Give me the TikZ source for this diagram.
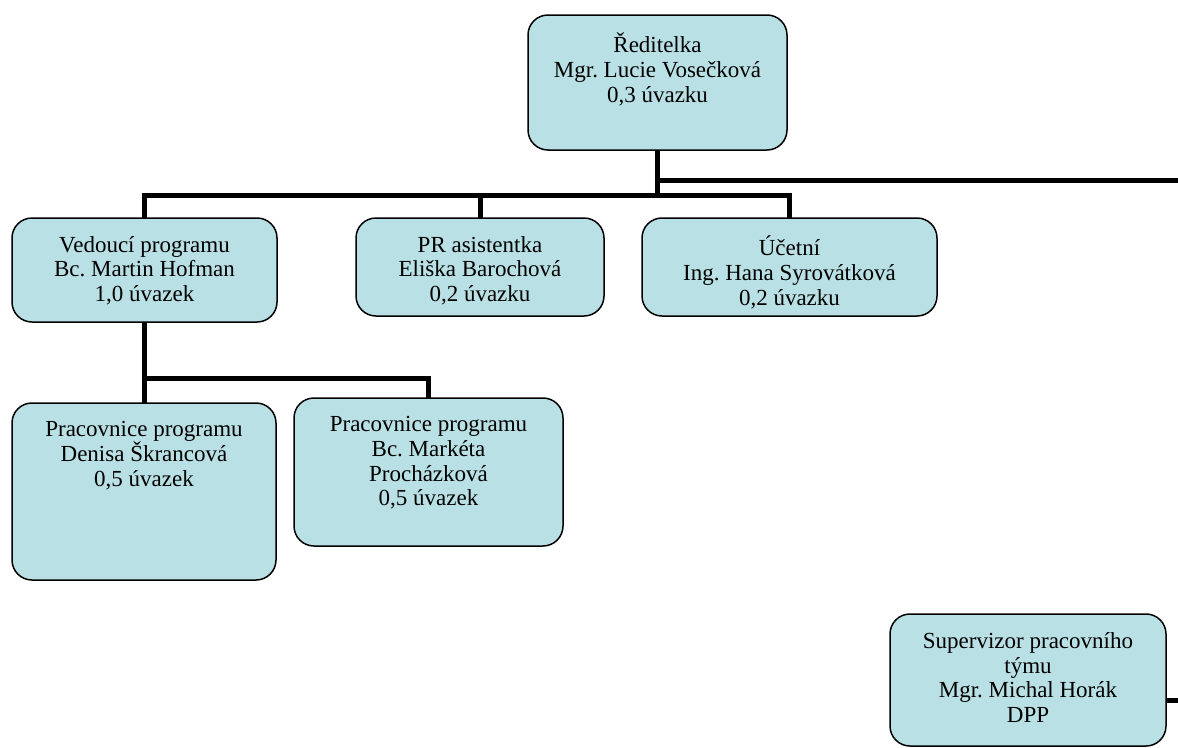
\documentclass[tikz,border=0pt]{standalone}
\usepackage{fontspec}
\setmainfont{Liberation Serif}
\definecolor{boxfill}{RGB}{185,224,228}
\frenchspacing
\begin{document}
\begin{tikzpicture}[x=1pt, y=-1pt,
	box/.style={draw, line width=1.5pt, fill=boxfill, rounded corners=20pt, inner sep=0pt, outer sep=0pt},
	lbl/.style={anchor=north, yshift=-18pt, align=center, inner sep=0pt, font=\fontsize{23}{24.8}\selectfont, execute at begin node=\strut},
	conn/.style={line width=5pt}]
\path[use as bounding box, clip] (0,0) rectangle (1178,747);
\node[box, minimum width=259pt, minimum height=135pt, label={[lbl]north:{Ředitelka\\Mgr. Lucie Vosečková\\0,3 úvazku}}] (dir) at (657.5,82.5) {};
\node[box, minimum width=265pt, minimum height=104pt, label={[lbl]north:{Vedoucí programu\\Bc. Martin Hofman\\1,0 úvazek}}] (ved) at (144.5,270) {};
\node[box, minimum width=248pt, minimum height=98pt, label={[lbl]north:{PR asistentka\\Eliška Barochová\\0,2 úvazku}}] (pr) at (480,267) {};
\node[box, minimum width=295pt, minimum height=98pt, label={[lbl]north:{Účetní\\Ing. Hana Syrovátková\\0,2 úvazku}}] (uc) at (789.5,267) {};
\node[box, minimum width=264pt, minimum height=177pt, label={[lbl]north:{Pracovnice programu\\Denisa Škrancová\\0,5 úvazek}}] (prac1) at (144,491.5) {};
\node[box, minimum width=269pt, minimum height=148pt, label={[lbl]north:{Pracovnice programu\\Bc. Markéta\\Procházková\\0,5 úvazek}}] (prac2) at (428.5,472) {};
\node[box, minimum width=276pt, minimum height=132pt, label={[lbl]north:{Supervizor pracovního\\týmu\\Mgr. Michal Horák\\DPP}}] (sup) at (1028,680) {};
% connectors
\draw[conn] (dir.south) -- ++(0,45) coordinate (bus);
\draw[conn] (ved.north) -- (ved.north |- bus) -| (uc.north);
\draw[conn] (pr.north) -- (pr.north |- bus);
\draw[conn] ([yshift=-30pt]dir.south) -| ([xshift=30pt,yshift=-20pt]sup.east) -- ([yshift=-20pt]sup.east);
\draw[conn] (ved.south) -- (ved.south |- prac1.north);
\draw[conn] ([yshift=-56pt]ved.south) coordinate (vbus) -| (prac2.north);
\end{tikzpicture}
\end{document}
